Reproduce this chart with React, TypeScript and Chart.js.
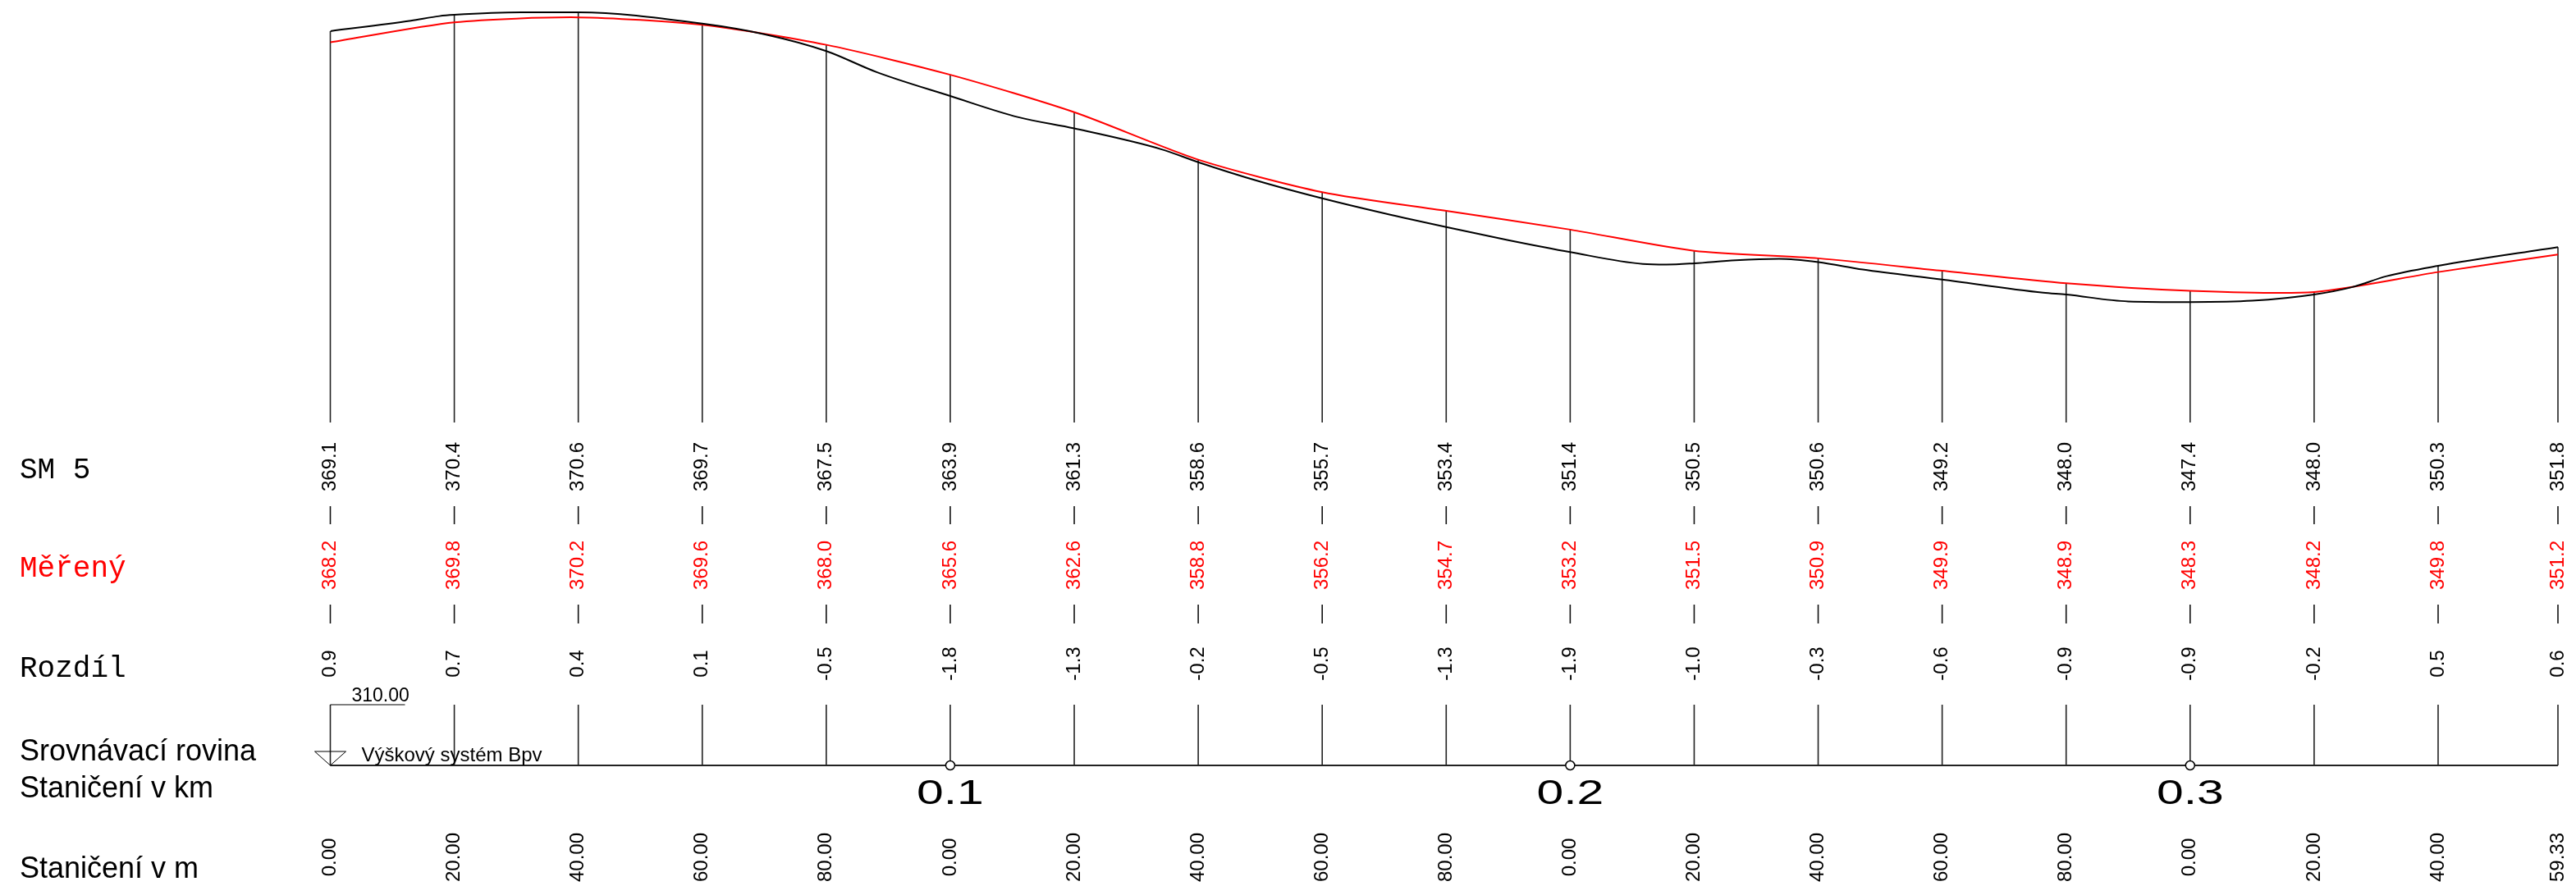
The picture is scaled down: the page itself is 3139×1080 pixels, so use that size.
import React, { useEffect, useRef } from "react";
import { Chart, registerables } from "chart.js";

Chart.register(...registerables);

// ---- data ----
const stations = [0, 20, 40, 60, 80, 100, 120, 140, 160, 180, 200, 220, 240, 260, 280, 300, 320, 340, 359.33];
const smValues = [369.1, 370.4, 370.6, 369.7, 367.5, 363.9, 361.3, 358.6, 355.7, 353.4, 351.4, 350.5, 350.6, 349.2, 348.0, 347.4, 348.0, 350.3, 351.8];
const measuredValues = [368.2, 369.8, 370.2, 369.6, 368.0, 365.6, 362.6, 358.8, 356.2, 354.7, 353.2, 351.5, 350.9, 349.9, 348.9, 348.3, 348.2, 349.8, 351.2];
const diffValues = [0.9, 0.7, 0.4, 0.1, -0.5, -1.8, -1.3, -0.2, -0.5, -1.3, -1.9, -1.0, -0.3, -0.6, -0.9, -0.9, -0.2, 0.5, 0.6];
const stationLabels = ["0.00", "20.00", "40.00", "60.00", "80.00", "0.00", "20.00", "40.00", "60.00", "80.00", "0.00", "20.00", "40.00", "60.00", "80.00", "0.00", "20.00", "40.00", "59.33"];
const kmStations = [100, 200, 300];
const kmLabels = ["0.1", "0.2", "0.3"];

// terrain line (SM 5) vertices
const terrainStations = [0, 13, 17.6, 20, 30.8, 40, 60, 70, 80, 88.2, 100, 111, 120, 134, 140, 149.6, 160, 170, 180, 190, 200, 211.7, 215.5, 220, 226.7, 233.7, 240, 247.2, 260, 276.3, 280, 290, 300, 310, 320, 326.2, 331.7, 340, 359.33];
const terrainValues = [369.1, 369.93, 370.3, 370.4, 370.6, 370.6, 369.7, 368.85, 367.5, 365.8, 363.9, 362.2, 361.3, 359.64, 358.6, 357.1, 355.7, 354.5, 353.4, 352.36, 351.4, 350.45, 350.4, 350.5, 350.75, 350.86, 350.6, 350.0, 349.2, 348.15, 348.0, 347.45, 347.4, 347.5, 348.0, 348.6, 349.47, 350.3, 351.8];

const rowLabelSm = "SM 5";
const rowLabelMeasured = "Měřený";
const rowLabelDiff = "Rozdíl";
const rowLabelDatum = "Srovnávací rovina";
const rowLabelKm = "Staničení v km";
const rowLabelM = "Staničení v m";
const datumLevel = "310.00";
const datumSystem = "Výškový systém Bpv";

const W = 3139;
const H = 1080;
const SANS = '"Liberation Sans", Arial, sans-serif';
const MONO = '"Liberation Mono", "Courier New", monospace';

function vText(ctx: CanvasRenderingContext2D, text: string, x: number, y: number, color: string) {
  ctx.save();
  ctx.translate(x, y);
  ctx.rotate(-Math.PI / 2);
  ctx.font = `24px ${SANS}`;
  ctx.fillStyle = color;
  ctx.textAlign = "center";
  ctx.textBaseline = "middle";
  ctx.fillText(text, 0, 0);
  ctx.restore();
}

function line(ctx: CanvasRenderingContext2D, x1: number, y1: number, x2: number, y2: number, w: number, c: string) {
  ctx.beginPath();
  ctx.moveTo(x1, y1);
  ctx.lineTo(x2, y2);
  ctx.lineWidth = w;
  ctx.strokeStyle = c;
  ctx.stroke();
}

const stationLinesPlugin = {
  id: "stationLines",
  beforeDatasetsDraw(chart: any) {
    const ctx: CanvasRenderingContext2D = chart.ctx;
    const xs = chart.scales.x;
    const ys = chart.scales.y;
    const bottom = chart.chartArea.bottom;
    ctx.save();
    stations.forEach((s, i) => {
      const x = xs.getPixelForValue(s);
      const top = ys.getPixelForValue(Math.max(smValues[i], measuredValues[i]));
      line(ctx, x, top, x, bottom, 1.6, "#222");
    });
    ctx.restore();
  },
};

const tablePlugin = {
  id: "profileTable",
  afterDraw(chart: any) {
    const ctx: CanvasRenderingContext2D = chart.ctx;
    const xs = chart.scales.x;
    ctx.save();

    // left row labels
    ctx.textAlign = "left";
    ctx.textBaseline = "alphabetic";
    ctx.font = `36px ${MONO}`;
    ctx.fillStyle = "#000";
    ctx.fillText(rowLabelSm, 24, 583);
    ctx.fillStyle = "#ff0000";
    ctx.fillText(rowLabelMeasured, 24, 703);
    ctx.fillStyle = "#000";
    ctx.fillText(rowLabelDiff, 24, 825);
    ctx.font = `36px ${SANS}`;
    ctx.fillText(rowLabelDatum, 24, 927);
    ctx.fillText(rowLabelKm, 24, 972);
    ctx.fillText(rowLabelM, 24, 1070);

    const x0 = xs.getPixelForValue(stations[0]);
    const xEnd = xs.getPixelForValue(stations[stations.length - 1]);
    const datumY = 933;

    stations.forEach((s, i) => {
      const x = xs.getPixelForValue(s);
      vText(ctx, smValues[i].toFixed(1), x, 569, "#000");
      line(ctx, x, 617, x, 639, 1.6, "#111");
      vText(ctx, measuredValues[i].toFixed(1), x, 689, "#ff0000");
      line(ctx, x, 737, x, 760, 1.6, "#111");
      vText(ctx, diffValues[i].toFixed(1), x, 809, "#000");
      line(ctx, x, 859, x, datumY, 1.6, "#222");
      vText(ctx, stationLabels[i], x, 1045, "#000");
    });

    // datum line
    line(ctx, x0, datumY, xEnd, datumY, 2, "#222");

    // datum level label
    ctx.font = `23px ${SANS}`;
    ctx.fillStyle = "#000";
    ctx.textAlign = "left";
    ctx.fillText(datumLevel, x0 + 26, 855);
    line(ctx, x0, 859, x0 + 91, 859, 1.2, "#000");

    // triangle symbol
    ctx.beginPath();
    ctx.moveTo(x0 - 19, 916);
    ctx.lineTo(x0 + 19, 916);
    ctx.lineTo(x0, datumY);
    ctx.closePath();
    ctx.lineWidth = 1;
    ctx.strokeStyle = "#000";
    ctx.stroke();

    ctx.font = `24px ${SANS}`;
    ctx.fillText(datumSystem, x0 + 38, 928);

    // km markers
    kmStations.forEach((s, i) => {
      const x = xs.getPixelForValue(s);
      ctx.beginPath();
      ctx.arc(x, datumY, 5.5, 0, Math.PI * 2);
      ctx.fillStyle = "#fff";
      ctx.fill();
      ctx.lineWidth = 1.5;
      ctx.strokeStyle = "#000";
      ctx.stroke();
      ctx.save();
      ctx.translate(x, 980);
      ctx.scale(1.4, 1);
      ctx.font = `42px ${SANS}`;
      ctx.fillStyle = "#000";
      ctx.textAlign = "center";
      ctx.textBaseline = "alphabetic";
      ctx.fillText(kmLabels[i], 0, 0);
      ctx.restore();
    });

    ctx.restore();
  },
};

export default function App() {
  const ref = useRef<HTMLCanvasElement | null>(null);

  useEffect(() => {
    if (!ref.current) return;
    const chart = new Chart(ref.current, {
      type: "line",
      data: {
        datasets: [
          {
            label: rowLabelSm,
            data: terrainStations.map((s, i) => ({ x: s, y: terrainValues[i] })),
            borderColor: "#000",
            borderWidth: 2,
            pointRadius: 0,
            cubicInterpolationMode: "monotone",
            fill: false,
          },
          {
            label: rowLabelMeasured,
            data: stations.map((s, i) => ({ x: s, y: measuredValues[i] })),
            borderColor: "#ff0000",
            borderWidth: 2,
            pointRadius: 0,
            tension: 0.25,
            fill: false,
          },
        ],
      },
      options: {
        animation: false,
        responsive: false,
        maintainAspectRatio: false,
        events: [],
        layout: { padding: { left: 402.5, right: 22, top: 0, bottom: 565 } },
        scales: {
          x: { type: "linear", min: 0, max: 359.33, display: false },
          y: { type: "linear", min: 337.75, max: 371.59, display: false },
        },
        plugins: { legend: { display: false }, tooltip: { enabled: false } },
      },
      plugins: [stationLinesPlugin, tablePlugin],
    });
    return () => chart.destroy();
  }, []);

  return (
    <div style={{ position: "fixed", left: 0, top: 0, width: W, height: H, background: "#fff" }}>
      <canvas ref={ref} width={W} height={H} style={{ display: "block", width: W, height: H }} />
    </div>
  );
}
